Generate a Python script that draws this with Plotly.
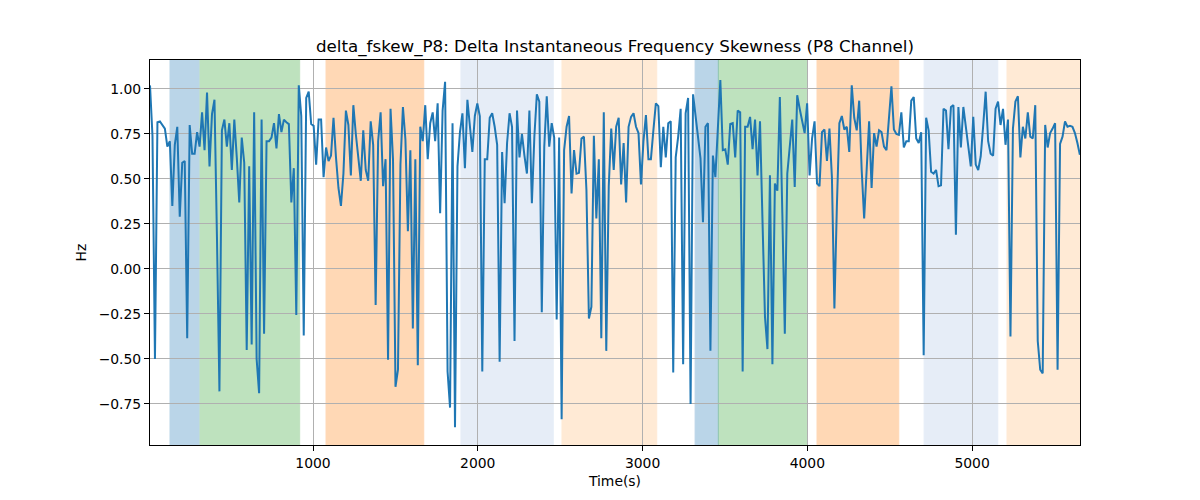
import numpy as np
import plotly.graph_objects as go

# ---- data ----
t_start = 10.6
t_step = 15.05
values = [
    1.02, 0.74, -0.5, 0.815, 0.82, 0.80, 0.78, 0.68, 0.71, 0.35, 0.69, 0.79, 0.29, 0.59, 0.60, -0.385, 0.80, 0.64,
    0.64, 0.76, 0.68, 0.87, 0.66, 0.98, 0.57, 0.86, 0.94, 0.18, -0.68, 0.77, 0.83, 0.68, 0.81, 0.55, 0.83, 0.62,
    0.37, 0.73, 0.59, -0.45, 0.57, -0.42, 0.87, -0.5, -0.69, 0.83, -0.36, 0.71, 0.71, 0.73, 0.81, 0.67, 0.86, 0.76,
    0.83, 0.815, 0.805, 0.37, 0.56, -0.255, 1.02, 0.85, -0.37, 0.95, 0.985, 0.805, 0.795, 0.58, 0.83, 0.83, 0.51,
    0.675, 0.60, 0.63, 0.84, 0.62, 0.45, 0.35, 0.53, 0.88, 0.80, 0.52, 0.91, 0.75, 0.60, 0.49, 0.77, 0.55, 0.49,
    0.82, 0.69, -0.20, 0.71, 0.87, 0.46, 0.61, -0.505, 0.89, 0.61, -0.655, -0.56, 0.58, 0.90, 0.72, 0.21, 0.66,
    -0.33, 0.61,
    -0.535, 0.79, 0.71, 0.91, 0.61, 0.81, 0.87, 0.71, 0.92, 0.31, 0.88, 1.04, -0.57, -0.77, 0.81, -0.88, 0.57,
    0.76, 0.865, 0.56, 0.94, 0.78, 0.65, 0.85, 0.92, 0.85, -0.57, 0.61, 0.61, 0.84, 0.865, 0.79, 0.69, -0.515,
    0.65, 0.365, 0.70, 0.865, 0.79, -0.40, 0.88, 0.62, 0.75, 0.63, 0.53, 0.88, 0.365, 0.735, 0.97, 0.93, -0.24,
    0.68, 0.96, 0.68,
    0.81, 0.73, -0.28, 0.73, -0.835, 0.66, 0.79, 0.85, 0.42, 0.66, 0.53, 0.535, 0.725, 0.735, 0.44, -0.275, -0.21,
    0.74, 0.28, 0.61, -0.385, 0.87, -0.455, 0.46, 0.78, 0.55, 0.79, 0.84, 0.47, 0.70, 0.37, 0.79, 0.845, 0.865,
    0.79, 0.755, 0.47, 0.71, 0.855, 0.61, 0.61, 0.77, 0.92, 0.905, 0.565, 0.79, 0.62, 0.81, 0.82, -0.575, 0.62,
    0.735, 0.89, -0.53,
    0.865, 0.95, -0.75, 0.97, 0.855, 0.735, 0.615, 0.26, 0.79, 0.81, -0.455, 0.63, 0.51, 0.78, 1.05, 0.66, 0.665,
    0.58, 0.805, 0.81, 0.62, 0.88, 0.87, -0.57, 0.79, 0.79, 0.845, 0.665, 0.83, 0.52, 0.82, 0.27, -0.265, -0.445,
    0.52, -0.53, 0.475, 0.435, 0.955, 0.31, -0.36, 0.53, 0.68, 0.83, 0.455, 0.965, 0.89, 0.82, 0.755, 0.92, 0.52,
    0.725, 0.82, 0.475, 0.46,
    0.76, 0.775, 0.60, 0.78, 0.51, -0.22, 0.35, 0.81, 0.85, 0.775, 0.79, 0.65, 1.02, 0.84, 0.77, 0.935, 0.55, 0.28,
    0.55, 0.82, 0.45, 0.755, 0.68, 0.77, 0.76, 0.68, 0.66, 0.845, 1.015, 0.775, 0.75, 0.745, 0.87, 0.675, 0.71,
    0.71, 0.935, 0.955, 0.725, 0.70, 0.76, -0.48, 0.84, 0.77, 0.54, 0.53, 0.55, 0.46, 0.465, 0.89, 0.88, 0.665,
    0.90, 0.91,
    0.19, 0.90, 0.675, 0.90, 0.79, 0.65, 0.57, 0.845, 0.58, 0.55, 0.625, 0.795, 0.985, 0.71, 0.64, 0.63, 0.89, 0.93,
    0.80, 0.89, 0.69, 0.83, -0.375, 0.78, 0.93, 0.96, 0.62, 0.79, 0.725, 0.87, 0.735, 0.725, 0.91, -0.40, -0.56,
    -0.58, 0.80, 0.675, 0.755, 0.78, 0.81, -0.56, 0.695, 0.735, 0.82, 0.79, 0.795, 0.79, 0.755, 0.70, 0.635,
]
times = t_start + t_step * np.arange(len(values))

span_starts = [132, 314, 1079, 1898, 2511, 3319, 3460, 4059, 4709, 5212]
span_ends = [308, 919, 1672, 2458, 3086, 3460, 4000, 4555, 5156, 5655]
span_colors = ["#1f77b4", "#2ca02c", "#ff7f0e", "#aec7e8", "#ffbb78",
               "#1f77b4", "#2ca02c", "#ff7f0e", "#aec7e8", "#ffbb78"]

x_ticks = [1000, 2000, 3000, 4000, 5000]
y_ticks = [-0.75, -0.5, -0.25, 0.0, 0.25, 0.5, 0.75, 1.0]
y_tick_labels = ["\u22120.75", "\u22120.50", "\u22120.25", "0.00", "0.25", "0.50", "0.75", "1.00"]

x_range = [10.6, 5655]
y_range = [-0.978, 1.161]

# ---- figure ----
# The page body has an 8px margin, so the figure is 1192x492 and offset by 8px.
W, H = 1192, 492
fig = go.Figure()
fig.add_trace(go.Scatter(x=times, y=values, mode="lines",
                         line=dict(color="#1f77b4", width=2), showlegend=False,
                         hoverinfo="skip"))

shapes = []
for s, e, c in zip(span_starts, span_ends, span_colors):
    shapes.append(dict(type="rect", xref="x", yref="paper", x0=s, x1=e, y0=0, y1=1,
                       fillcolor=c, opacity=0.3, line=dict(color=c, width=1), layer="below"))
fig.update_layout(shapes=shapes)

font_family = "DejaVu Sans"
axis_font = dict(family=font_family, size=13.9, color="black")
fig.update_layout(
    width=W, height=H,
    margin=dict(l=142, r=120, t=52, b=55),
    paper_bgcolor="white", plot_bgcolor="white",
    font=dict(family=font_family, size=13.9, color="black"),
    title=dict(text="delta_fskew_P8: Delta Instantaneous Frequency Skewness (P8 Channel)",
               x=607 / W, xanchor="center", y=1 - 38 / H, yanchor="middle",
               yref="container", font=dict(family=font_family, size=16.7, color="black")),
    xaxis=dict(range=x_range, tickvals=x_ticks, ticktext=[str(v) for v in x_ticks],
               showgrid=True, gridcolor="#b0b0b0", gridwidth=1,
               showline=True, linecolor="black", linewidth=1, mirror=True,
               ticks="outside", ticklen=5, tickcolor="black", zeroline=False,
               tickfont=axis_font,
               title=dict(text="Time(s)", standoff=6, font=axis_font)),
    yaxis=dict(range=y_range, tickvals=y_ticks, ticktext=y_tick_labels,
               showgrid=True, gridcolor="#b0b0b0", gridwidth=1,
               showline=True, linecolor="black", linewidth=1, mirror=True,
               ticks="outside", ticklen=5, tickcolor="black", zeroline=False,
               tickfont=axis_font,
               title=dict(text="Hz", standoff=8, font=axis_font)),
)

fig.write_html("out.html")
